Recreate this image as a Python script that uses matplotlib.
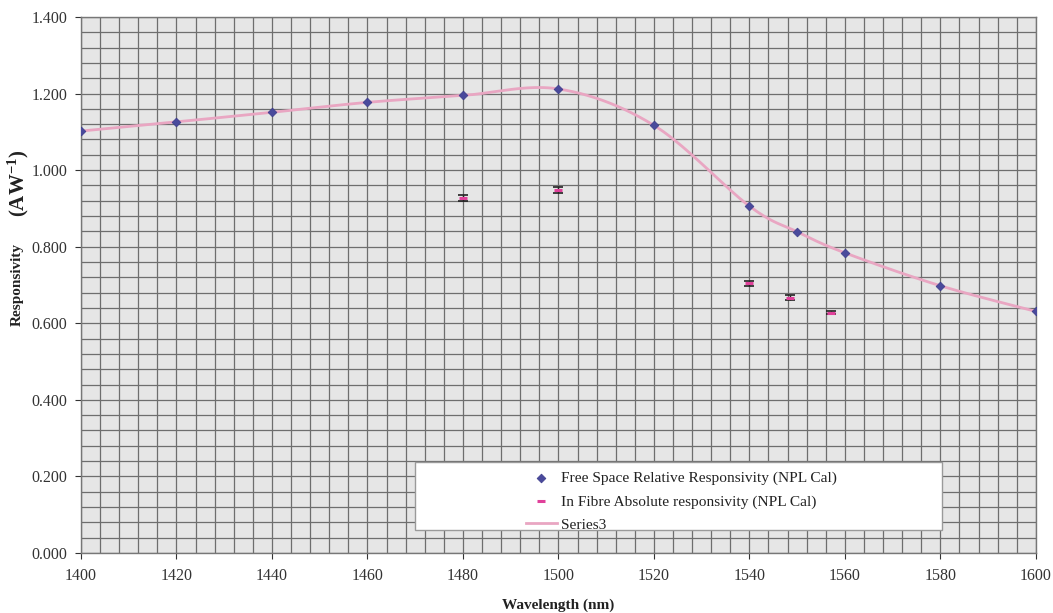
import numpy as np
import matplotlib
matplotlib.use("Agg")
import matplotlib.pyplot as plt
from matplotlib.ticker import MultipleLocator
from matplotlib.patches import Rectangle

# Free-space relative responsivity (NPL calibration)
fs_wavelength = [1400, 1420, 1440, 1460, 1480, 1500, 1520, 1540, 1550, 1560, 1580, 1600]
fs_response = [1.102, 1.126, 1.151, 1.177, 1.195, 1.212, 1.117, 0.906, 0.839, 0.784, 0.698, 0.631]

# In-fibre absolute responsivity (NPL calibration) with uncertainties
fib_wavelength = [1480, 1500, 1540, 1548.5, 1557]
fib_response = [0.928, 0.948, 0.704, 0.667, 0.628]
fib_error = [0.008, 0.009, 0.007, 0.006, 0.005]

# Series3 uses the free-space values, drawn as a smoothed curve
s3_wavelength = fs_wavelength
s3_response = fs_response

x_ticks = [1400, 1420, 1440, 1460, 1480, 1500, 1520, 1540, 1560, 1580, 1600]
y_ticks = [0.0, 0.2, 0.4, 0.6, 0.8, 1.0, 1.2, 1.4]


def smooth_curve(x, y, n=40):
    """Cubic Bezier smoothing through every point (spreadsheet-style smoothed line)."""
    x = np.asarray(x, float)
    y = np.asarray(y, float)
    xs, ys = [], []
    for i in range(len(x) - 1):
        p0 = np.array([x[i - 1], y[i - 1]]) if i > 0 else np.array([x[i], y[i]])
        p1 = np.array([x[i], y[i]])
        p2 = np.array([x[i + 1], y[i + 1]])
        p3 = np.array([x[i + 2], y[i + 2]]) if i + 2 < len(x) else p2
        c1 = p1 + (p2 - p0) / 6.0
        c2 = p2 - (p3 - p1) / 6.0
        t = np.linspace(0, 1, n)[:, None]
        pts = ((1 - t) ** 3) * p1 + 3 * ((1 - t) ** 2) * t * c1 + 3 * (1 - t) * t ** 2 * c2 + t ** 3 * p2
        xs.extend(pts[:, 0])
        ys.extend(pts[:, 1])
    return np.array(xs), np.array(ys)


plt.rcParams['font.family'] = ['Liberation Serif', 'DejaVu Serif']
plt.rcParams['mathtext.fontset'] = 'custom'
plt.rcParams['mathtext.rm'] = 'Liberation Serif'
plt.rcParams['mathtext.bf'] = 'Liberation Serif:bold'

fig = plt.figure(figsize=(10.53, 6.13), dpi=100)
ax = fig.add_axes([0.0769, 0.0979, 0.9068, 0.8744])

ax.set_facecolor('#e6e6e6')
ax.set_xlim(1400, 1600)
ax.set_ylim(0, 1.4)

ax.xaxis.set_major_locator(MultipleLocator(20))
ax.xaxis.set_minor_locator(MultipleLocator(4))
ax.yaxis.set_major_locator(MultipleLocator(0.2))
ax.yaxis.set_minor_locator(MultipleLocator(0.04))
ax.grid(which='both', color='#6e6e6e', linewidth=0.9)
ax.set_axisbelow(True)

ax.set_xticks(x_ticks)
ax.set_xticklabels([str(v) for v in x_ticks])
ax.set_yticks(y_ticks)
ax.set_yticklabels([f"{v:.3f}" for v in y_ticks])
ax.tick_params(axis='both', which='major', labelsize=11.5, colors='#333333', length=4,
               direction='out', width=0.8)
ax.tick_params(axis='both', which='minor', length=0)
ax.tick_params(axis='x', pad=7)
ax.tick_params(axis='y', pad=6)
for s in ax.spines.values():
    s.set_color('#777777')
    s.set_linewidth(1.0)

sx, sy = smooth_curve(s3_wavelength, s3_response)
ax.plot(sx, sy, color='#e9a6c2', linewidth=2.0, label='Series3', zorder=3)

ax.scatter(fs_wavelength, fs_response, marker='D', s=20, color='#4a4a9c',
           edgecolors='#3a3a8a', linewidths=0.5, zorder=4,
           label='Free Space Relative Responsivity (NPL Cal)')

ax.errorbar(fib_wavelength, fib_response, yerr=fib_error, fmt='none',
            ecolor='#222222', elinewidth=1.0, capsize=3.5, capthick=1.2, zorder=4)
ax.scatter(fib_wavelength, fib_response, marker='_', s=36, color='#e0409a',
           linewidths=2.2, zorder=5, label='In Fibre Absolute responsivity (NPL Cal)')

# white legend panel
ax.add_patch(Rectangle((0.350, 0.043), 0.552, 0.126, transform=ax.transAxes,
                       facecolor='white', edgecolor='#9a9a9a', linewidth=1.0, zorder=6))

handles, labels = ax.get_legend_handles_labels()
order = [1, 2, 0]
leg = ax.legend([handles[i] for i in order], [labels[i] for i in order],
                loc='upper left', bbox_to_anchor=(0.466, 0.152),
                frameon=False, fontsize=11.1,
                handlelength=2.0, handletextpad=0.28, borderpad=0.0, labelspacing=0.6,
                borderaxespad=0)
leg.set_zorder(7)
for t in leg.get_texts():
    t.set_color('#222222')

ax.set_xlabel('Wavelength (nm)', fontsize=11, fontweight='bold', labelpad=10, color='#222222')

# y-axis title: word and unit at different sizes
fig.text(0.016, 1 - 285 / 613, 'Responsivity', rotation=90, fontsize=11, fontweight='bold',
         color='#222222', ha='center', va='center')
fig.text(0.017, 1 - 183 / 613, r'$\mathbf{(AW^{-1})}$', rotation=90, fontsize=15,
         color='#222222', ha='center', va='center')

fig.savefig('out.png', dpi=100, facecolor='white')
